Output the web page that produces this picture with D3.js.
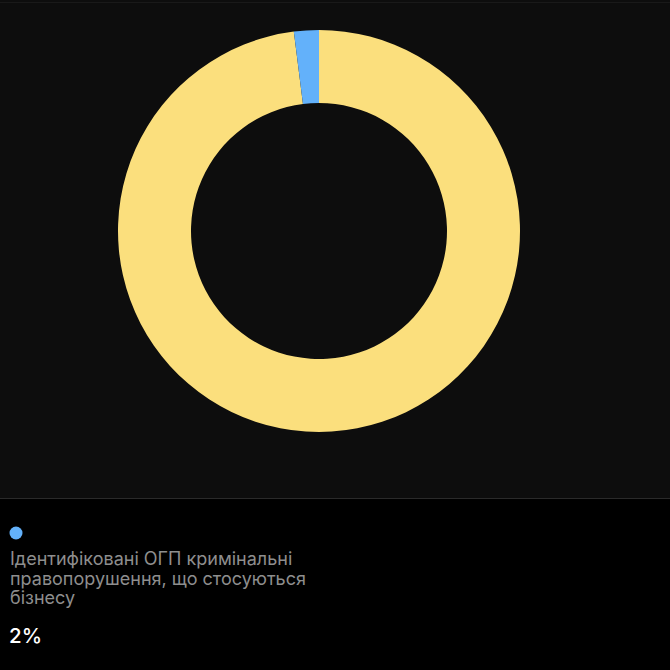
<!DOCTYPE html>
<html>
<head>
<meta charset="utf-8">
<script src="https://cdn.jsdelivr.net/npm/d3@7"></script>
<style>
  html, body { margin: 0; padding: 0; background: #000; }
  svg { display: block; }
</style>
</head>
<body>
<div id="chart"></div>
<script>
// Chart data
const labels = ["Інше", "Ідентифіковані ОГП кримінальні правопорушення, що стосуються бізнесу"];
const values = [98, 2];
const colours = ["#fbdf7d", "#63b1fa"];
const legendLines = ["Ідентифіковані ОГП кримінальні", "правопорушення, що стосуються", "бізнесу"];
const legendValue = "2%";

const width = 670;
const height = 670;
const cx = 319;
const cy = 231;
const outerRadius = 201;
const innerRadius = 128;

const svg = d3.select("#chart")
    .append("svg")
    .attr("width", width)
    .attr("height", height);

// Backgrounds
svg.append("rect")
    .attr("width", width)
    .attr("height", height)
    .attr("fill", "#000");

svg.append("rect")
    .attr("width", width)
    .attr("height", 498)
    .attr("fill", "#0d0d0d");

svg.append("line")
    .attr("x1", 0).attr("x2", width)
    .attr("y1", 2.5).attr("y2", 2.5)
    .attr("stroke", "#191919");

svg.append("line")
    .attr("x1", 0).attr("x2", width)
    .attr("y1", 498.5).attr("y2", 498.5)
    .attr("stroke", "#2a2a2a");

// Donut
const data = labels.map((label, i) => ({ label, value: values[i], colour: colours[i] }));

const pie = d3.pie()
    .sort(null)
    .value(d => d.value);

const arc = d3.arc()
    .innerRadius(innerRadius)
    .outerRadius(outerRadius);

svg.append("g")
    .attr("transform", `translate(${cx}, ${cy})`)
    .selectAll("path")
    .data(pie(data))
    .enter()
    .append("path")
    .attr("d", arc)
    .attr("fill", d => d.data.colour);

// Legend
const legend = svg.append("g")
    .style("font-family", "Inter, 'Noto Sans', sans-serif");

legend.append("circle")
    .attr("cx", 16)
    .attr("cy", 533)
    .attr("r", 6.5)
    .attr("fill", colours[1]);

legend.selectAll(".legend-line")
    .data(legendLines)
    .enter()
    .append("text")
    .attr("class", "legend-line")
    .attr("x", 10)
    .attr("y", (d, i) => 565 + i * 19.5)
    .attr("font-size", "18px")
    .attr("fill", "#8e8e8e")
    .text(d => d);

legend.append("text")
    .attr("x", 9)
    .attr("y", 643)
    .attr("font-size", "20.5px")
    .attr("font-weight", 500)
    .attr("fill", "#ffffff")
    .text(legendValue);
</script>
</body>
</html>
